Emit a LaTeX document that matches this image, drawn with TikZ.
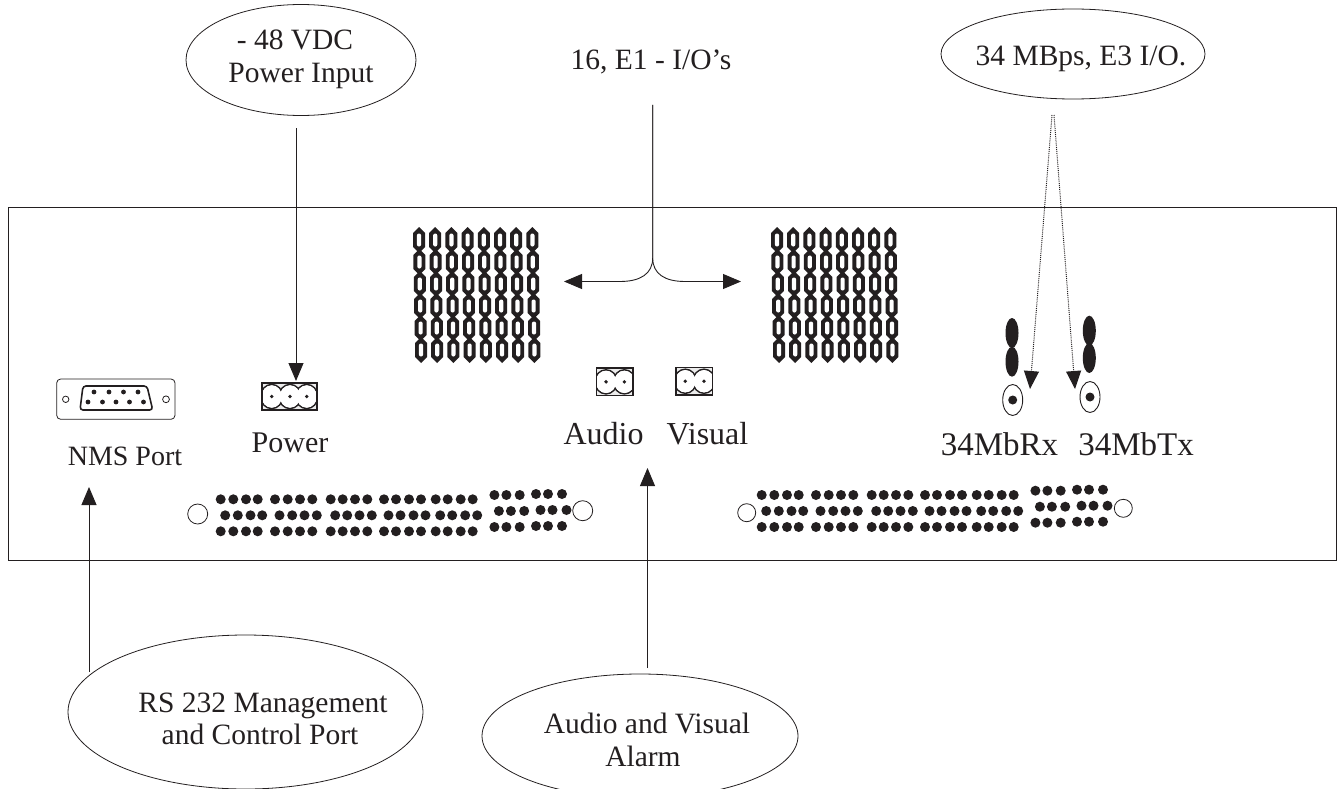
\documentclass[tikz,border=0pt]{standalone}
\usepackage{fontspec}
\setmainfont{Liberation Serif}
\usetikzlibrary{arrows.meta,shapes.geometric}
\definecolor{ink}{HTML}{231F20}
\tikzset{
    note/.style={draw=ink,ellipse,inner sep=0pt,line width=0.8pt},
    lbl/.style={anchor=base,inner sep=0pt,text=ink,font=\fontsize{29.5}{32}\selectfont},
    biglbl/.style={anchor=base,inner sep=0pt,text=ink,font=\fontsize{32}{35}\selectfont},
    wire/.style={draw=ink,line width=0.9pt,-{Triangle[length=18pt,width=15pt]}},
    dotwire/.style={wire,densely dotted,line width=1pt},
    pin/.style={fill=ink,draw=none}
}
% socket block of chain links
\newcommand{\linkblock}[2]{
    \foreach \i in {0,...,7}{
        \foreach \j in {0,...,5}{
            \begin{scope}[shift={({#1+16.2*\i+0.4*\j},{#2+22*\j})}]
                \fill[ink] (0,-13) -- (6,-7) -- (6,7) -- (0,13) -- (-6,7) -- (-6,-7) -- cycle;
                \fill[white,rounded corners=2pt] (-2.1,-6.5) rectangle (2.1,6.5);
            \end{scope}
        }
    }
}
% 62 pin connector, three rows
\newcommand{\pinblock}[2]{
    \begin{scope}[shift={(#1,#2)}]
        \foreach \y/\d in {0/0,16/4.5,32/0}{
            \foreach \x in {0,12.6,25.3,37,54.3,67,79.3,91.6,110,122,134.3,146.6,163.3,175.3,188.3,200.3,215,227,240,252}{
                \fill[pin] ({\x+\d},\y) circle [radius=5];
            }
            \foreach \x in {273.7,285.7,299}{
                \fill[pin] ({\x+\d},{\y-4.3}) circle [radius=5];
            }
            \foreach \x in {315.3,327.3,341.3}{
                \fill[pin] ({\x+\d},{\y-5.3}) circle [radius=5];
            }
        }
    \end{scope}
}
% lobed plug in a box
\newcommand{\plug}[5]{
    \begin{scope}
        \fill[gray!15] (#1,#2) rectangle (#3,#4);
        \clip (#1,#2) rectangle (#3,#4);
        \foreach \x in {#5}{
            \draw[ink,fill=white,line width=1.6pt] (\x,{(#2+#4)/2}) ellipse [x radius=11,y radius=12];
        }
        \foreach \x in {#5}{
            \fill[white] (\x,{(#2+#4)/2}) ellipse [x radius=10.2,y radius=11.2];
        }
        \foreach \x in {#5}{
            \fill[pin] (\x,{(#2+#4)/2}) circle [radius=1.9];
        }
    \end{scope}
    \draw[ink,line width=1.2pt] (#1,#2) rectangle (#3,#4);
}
\begin{document}
\begin{tikzpicture}[x=1pt,y=-1pt]
    \useasboundingbox (0,0) rectangle (1340,789);
    \clip (0,0) rectangle (1340,789);

    % chassis
    \draw[ink,line width=1pt] (8,207) rectangle (1336,560);

    % callouts
    \node[note,minimum width=230pt,minimum height=111pt] (powernote) at (301,60) {};
    \node[lbl] (powertop) at (295,50) {- 48 VDC};
    \node[lbl] (powerbot) at (301,83) {Power Input};
    \node[note,minimum width=264pt,minimum height=90pt] (e3note) at (1073,54) {};
    \node[lbl] (e3text) at (1081,66) {34 MBps, E3 I/O.};
    \node[lbl] (e1text) at (651,70) {16, E1 - I/O's};
    \node[note,minimum width=355pt,minimum height=154pt] (rsnote) at (245.5,712) {};
    \node[lbl] (rstop) at (263,712) {RS 232 Management};
    \node[lbl] (rsbot) at (260,744) {and Control Port};
    \node[note,minimum width=316pt,minimum height=124pt] (alarmnote) at (640,736) {};
    \node[lbl] (alarmtop) at (647,733) {Audio and Visual};
    \node[lbl] (alarmbot) at (643,766) {Alarm};

    % E1 sockets
    \linkblock{419}{240}
    \linkblock{777}{240}

    % NMS port
    \draw[ink,line width=0.8pt,rounded corners=4pt] (56.7,379) rectangle (175,419.3);
    \draw[ink,line width=0.8pt] (65.7,399.3) circle [radius=3.2];
    \draw[ink,line width=0.8pt] (166,399.3) circle [radius=3.4];
    \draw[ink,line width=1.6pt,rounded corners=3pt] (83,386) -- (147,386) -- (152.7,410) -- (80,410) -- cycle;
    \foreach \x in {94,109,123.5,138}{
        \fill[pin] (\x,392) circle [radius=2.4];
    }
    \foreach \x in {88,102.5,116,129.5,143.5}{
        \fill[pin] (\x,402) circle [radius=2.4];
    }
    \node[lbl,font=\fontsize{28}{30}\selectfont] (nmstext) at (125,465) {NMS Port};

    % power, audio, visual plugs
    \plug{262}{383}{317}{410}{271.7,290,306.7}
    \plug{596.7}{368}{633}{395.7}{606,624.4}
    \plug{676}{367.5}{712.7}{395}{685.3,704}
    \node[lbl,font=\fontsize{30}{32}\selectfont] (powertext) at (290,452) {Power};
    \node[biglbl] (audiotext) at (603.5,444) {Audio};
    \node[biglbl] (visualtext) at (707.5,444) {Visual};

    % 34 Mb
    \fill[ink] (1012,333) ellipse [x radius=6.5,y radius=15];
    \fill[ink] (1012,361.7) ellipse [x radius=6.5,y radius=15];
    \fill[ink] (1089.3,330.7) ellipse [x radius=6.5,y radius=15];
    \fill[ink] (1089.3,358) ellipse [x radius=6.5,y radius=15];
    \draw[ink,line width=0.9pt] (1012.7,400) ellipse [x radius=10,y radius=15.5];
    \fill[pin] (1012.7,400) circle [radius=4.5];
    \draw[ink,line width=0.9pt] (1090,397) ellipse [x radius=10,y radius=15.5];
    \fill[pin] (1090,397) circle [radius=4.5];
    \node[biglbl,font=\fontsize{33}{35}\selectfont] (rxtext) at (999.5,455) {34MbRx};
    \node[biglbl,font=\fontsize{33}{35}\selectfont] (txtext) at (1136,455) {34MbTx};

    % front connectors
    \pinblock{220.7}{499.3}
    \pinblock{761.7}{495}
    \draw[ink,line width=0.8pt] (197.7,514) circle [radius=10];
    \draw[ink,line width=0.8pt] (582.7,510.7) circle [radius=10];
    \draw[ink,line width=0.8pt] (746.7,512.7) circle [radius=9];
    \draw[ink,line width=0.8pt] (1123.3,508.3) circle [radius=9];

    % arrow ends
    \coordinate (powerfrom) at (296,128);
    \coordinate (powerto) at (296,381);
    \coordinate (e1from) at (652.7,105);
    \coordinate (e1left) at (564,281.5);
    \coordinate (e1right) at (741,281.5);
    \coordinate (rxfrom) at (1052,115);
    \coordinate (rxto) at (1030,389);
    \coordinate (txfrom) at (1054,115);
    \coordinate (txto) at (1075,389);
    \coordinate (rsfrom) at (89,672);
    \coordinate (rsto) at (89,487);
    \coordinate (alarmfrom) at (647.5,668);
    \coordinate (alarmto) at (647.5,468);

    % arrows
    \draw[wire] (powerfrom) -- (powerto);
    \draw[wire] (e1from) -- (652.7,258) .. controls (652.7,274) and (640,281.5) .. (620,281.5) -- (e1left);
    \draw[wire] (e1from) -- (652.7,258) .. controls (652.7,274) and (665,281.5) .. (685,281.5) -- (e1right);
    \draw[dotwire] (rxfrom) -- (rxto);
    \draw[dotwire] (txfrom) -- (txto);
    \draw[wire] (rsfrom) -- (rsto);
    \draw[wire] (alarmfrom) -- (alarmto);
\end{tikzpicture}
\end{document}
